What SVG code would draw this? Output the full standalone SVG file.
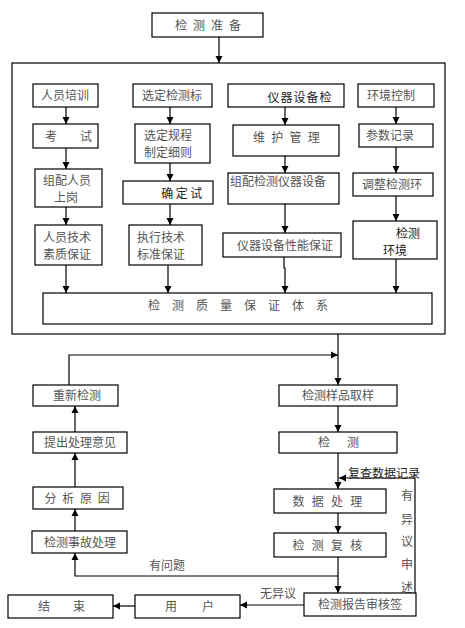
<svg xmlns="http://www.w3.org/2000/svg" width="465" height="628" viewBox="0 0 465 628">
<style>
.b{fill:#fff;stroke:#000;stroke-width:1.2}
.c{fill:none;stroke:#000;stroke-width:1.2}
text{font-family:"Noto Sans CJK SC","Liberation Sans",sans-serif;font-size:12px;fill:#555}
.m{text-anchor:middle}
.d{fill:#222}
</style>
<defs>
<marker id="a" viewBox="0 0 10 10" refX="10" refY="5" markerUnits="userSpaceOnUse" markerWidth="7" markerHeight="8" orient="auto">
<path d="M0,0 L10,5 L0,10 z" fill="#000"/>
</marker>
</defs>
<rect x="0" y="0" width="465" height="628" fill="#fff"/>
<g id="connectors">
<path class="c" d="M219,37 V63" marker-end="url(#a)"/>
<rect class="c" x="12" y="63" width="433" height="271"/>
<path class="c" d="M66,107 V124" marker-end="url(#a)"/>
<path class="c" d="M66,148 V169" marker-end="url(#a)"/>
<path class="c" d="M66,207 V225" marker-end="url(#a)"/>
<path class="c" d="M66,265 V293" marker-end="url(#a)"/>
<path class="c" d="M170,107 V124" marker-end="url(#a)"/>
<path class="c" d="M170,163 V181" marker-end="url(#a)"/>
<path class="c" d="M170,204 V225" marker-end="url(#a)"/>
<path class="c" d="M168,265 V293" marker-end="url(#a)"/>
<path class="c" d="M285,107 V125" marker-end="url(#a)"/>
<path class="c" d="M285,156 V173" marker-end="url(#a)"/>
<path class="c" d="M285,204 V233" marker-end="url(#a)"/>
<path class="c" d="M284,257 V268 H285 V293" marker-end="url(#a)"/>
<path class="c" d="M396,107 V124" marker-end="url(#a)"/>
<path class="c" d="M396,147 V173" marker-end="url(#a)"/>
<path class="c" d="M396,196 V221" marker-end="url(#a)"/>
<path class="c" d="M396,259 V293" marker-end="url(#a)"/>
<path class="c" d="M338,334 V385" marker-end="url(#a)"/>
<path class="c" d="M69,385 V355 H338" marker-end="url(#a)"/>
<path class="c" d="M338,406 V432" marker-end="url(#a)"/>
<path class="c" d="M75,432 V406" marker-end="url(#a)"/>
<path class="c" d="M75,487 V453" marker-end="url(#a)"/>
<path class="c" d="M75,531 V509" marker-end="url(#a)"/>
<path class="c" d="M338,453 V489" marker-end="url(#a)"/>
<path class="c" d="M415,593 V478 H339" marker-end="url(#a)"/>
<path class="c" d="M338,513 V533" marker-end="url(#a)"/>
<path class="c" d="M338,557 V593" marker-end="url(#a)"/>
<path class="c" d="M338,576 H75 V553" marker-end="url(#a)"/>
<path class="c" d="M304,605 H240" marker-end="url(#a)"/>
<path class="c" d="M135,606 H113" marker-end="url(#a)"/>
<text x="384" y="478" class="m d" font-size="11">复查数据记录</text>
<text x="167" y="570" class="m">有问题</text>
<text x="278" y="598" class="m">无异议</text>
<text x="407" y="500" class="m">有</text>
<text x="407" y="524" class="m">异</text>
<text x="407" y="546" class="m">议</text>
<text x="407" y="569" class="m">申</text>
<text x="407" y="592" class="m">述</text>
</g>
<g id="n-prep"><rect class="b" x="152" y="13" width="111" height="24"/><text x="211" y="30" class="m" letter-spacing="6">检测准备</text></g>
<g id="n-px"><rect class="b" x="33" y="84" width="65" height="23"/><text x="65" y="100" class="m">人员培训</text></g>
<g id="n-xdjcb"><rect class="b" x="133" y="84" width="79" height="23"/><text x="172" y="100" class="m" font-size="12.5">选定检测标</text></g>
<g id="n-yqsbj"><rect class="b" x="228" y="84" width="116" height="23"/><text x="300" y="102" class="m d" font-size="14" letter-spacing="1">仪器设备检</text></g>
<g id="n-hjkz"><rect class="b" x="358" y="84" width="76" height="23"/><text x="391" y="100" class="m">环境控制</text></g>
<g id="n-ks"><rect class="b" x="33" y="124" width="65" height="24"/><text y="141"><tspan x="45">考</tspan><tspan x="80">试</tspan></text></g>
<g id="n-xdgc"><rect class="b" x="135" y="124" width="75" height="39"/><text x="144" y="140">选定规程</text><text x="144" y="157">制定细则</text></g>
<g id="n-whgl"><rect class="b" x="233" y="125" width="106" height="31"/><text x="289.5" y="142" class="m" letter-spacing="6.3">维护管理</text></g>
<g id="n-csjl"><rect class="b" x="359" y="124" width="74" height="23"/><text x="390" y="140" class="m">参数记录</text></g>
<g id="n-zpry"><rect class="b" x="35" y="169" width="67" height="38"/><text x="43" y="185">组配人员</text><text x="66" y="202" class="m">上岗</text></g>
<g id="n-qds"><rect class="b" x="123" y="181" width="90" height="23"/><text x="183" y="198" class="m d" font-size="14" letter-spacing="2.5">确定试</text></g>
<g id="n-zpjc"><rect class="b" x="228" y="173" width="111" height="31"/><text x="230" y="186" font-size="11.6">组配检测仪器设备</text></g>
<g id="n-tzjch"><rect class="b" x="353" y="173" width="80" height="23"/><text x="392" y="189" class="m">调整检测环</text></g>
<g id="n-ryjs"><rect class="b" x="35" y="225" width="67" height="40"/><text x="43" y="242">人员技术</text><text x="43" y="259">素质保证</text></g>
<g id="n-zxjs"><rect class="b" x="129" y="225" width="73" height="40"/><text x="137" y="242">执行技术</text><text x="137" y="259">标准保证</text></g>
<g id="n-yqxn"><rect class="b" x="223" y="233" width="118" height="24"/><text x="285" y="250" class="m" font-size="13">仪器设备性能保证</text></g>
<g id="n-jchj"><rect class="b" x="353" y="221" width="84" height="38"/><text x="396" y="238" class="d" font-size="13">检测</text><text x="383" y="255" class="d" font-size="13">环境</text></g>
<g id="n-zlbz"><rect class="b" x="43" y="293" width="389" height="31"/><text x="244" y="310" class="m" letter-spacing="12">检测质量保证体系</text></g>
<g id="n-cxjc"><rect class="b" x="33" y="385" width="85" height="21"/><text x="77" y="400" class="m">重新检测</text></g>
<g id="n-qy"><rect class="b" x="279" y="385" width="118" height="21"/><text x="338" y="400" class="m">检测样品取样</text></g>
<g id="n-tcyj"><rect class="b" x="33" y="432" width="94" height="21"/><text x="80" y="447" class="m">提出处理意见</text></g>
<g id="n-jc"><rect class="b" x="279" y="432" width="118" height="21"/><text y="447"><tspan x="318">检</tspan><tspan x="347">测</tspan></text></g>
<g id="n-fxyy"><rect class="b" x="33" y="487" width="90" height="22"/><text x="80" y="503" class="m" letter-spacing="5.7">分析原因</text></g>
<g id="n-sjcl"><rect class="b" x="274" y="489" width="112" height="24"/><text x="331" y="506" class="m" letter-spacing="7.3">数据处理</text></g>
<g id="n-sgcl"><rect class="b" x="32" y="531" width="95" height="22"/><text x="80" y="547" class="m">检测事故处理</text></g>
<g id="n-fh"><rect class="b" x="274" y="533" width="112" height="24"/><text x="331" y="550" class="m" letter-spacing="7.3">检测复核</text></g>
<g id="n-shq"><rect class="b" x="304" y="593" width="112" height="23"/><text x="360" y="609" class="m" font-size="13">检测报告审核签</text></g>
<g id="n-yh"><rect class="b" x="135" y="595" width="105" height="23"/><text y="611"><tspan x="165">用</tspan><tspan x="202">户</tspan></text></g>
<g id="n-js"><rect class="b" x="8" y="595" width="105" height="23"/><text y="611"><tspan x="38">结</tspan><tspan x="73">束</tspan></text></g>
</svg>
